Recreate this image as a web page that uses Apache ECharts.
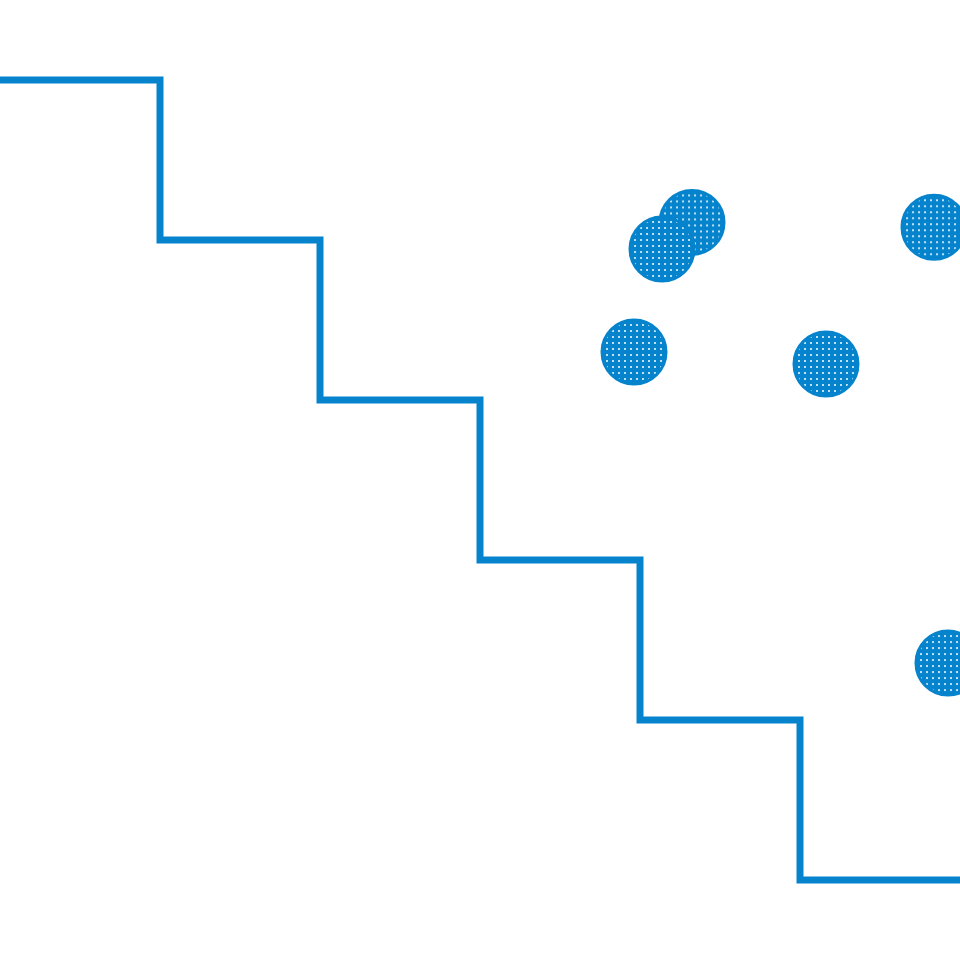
<!DOCTYPE html>
<html><head><meta charset="utf-8">
<script src="https://cdn.jsdelivr.net/npm/echarts@6/dist/echarts.min.js"></script>
<style>html,body{margin:0;padding:0;background:#fff}#c{width:960px;height:960px}</style>
</head><body><div id="c"></div>
<script>
const stepX = [0, 1, 2, 3, 4, 5, 6];
const stepY = [5.5, 4.5, 3.5, 2.5, 1.5, 0.5, 0.5];
const dotX = [4.325, 4.1375, 3.9625, 5.1625, 5.8375, 5.925];
const dotY = [4.61, 4.444, 3.8, 3.725, 4.58, 1.856];

const color = '#0584cd';
const symSize = 64;
function makePattern() {
  const c = document.createElement('canvas');
  c.width = 6; c.height = 6;
  const ctx = c.getContext('2d');
  ctx.fillStyle = color;
  ctx.fillRect(0, 0, 6, 6);
  ctx.fillStyle = '#ffffff';
  ctx.beginPath();
  ctx.arc(3, 3, 1.0, 0, Math.PI * 2);
  ctx.fill();
  return c;
}
const pat = makePattern();
const chart = echarts.init(document.getElementById('c'), null, {renderer: 'canvas'});
chart.setOption({
  animation: false,
  grid: {left: 0, right: 0, top: 0, bottom: 0},
  xAxis: {type: 'value', min: 0, max: 6, show: false},
  yAxis: {type: 'value', min: 0, max: 6, show: false},
  series: [
    {
      type: 'line', step: 'end', symbol: 'none',
      data: stepX.map((x, i) => [x, stepY[i]]),
      lineStyle: {color: color, width: 7, join: 'miter', cap: 'square'}
    },
    {
      type: 'scatter', symbol: 'circle', symbolSize: symSize,
      data: dotX.map((x, i) => [x, dotY[i]]),
      itemStyle: {
        color: {image: pat, repeat: 'repeat', scaleX: 2 / symSize, scaleY: 2 / symSize},
        borderColor: color, borderWidth: 3,
        opacity: 1
      }
    }
  ]
});
</script></body></html>
